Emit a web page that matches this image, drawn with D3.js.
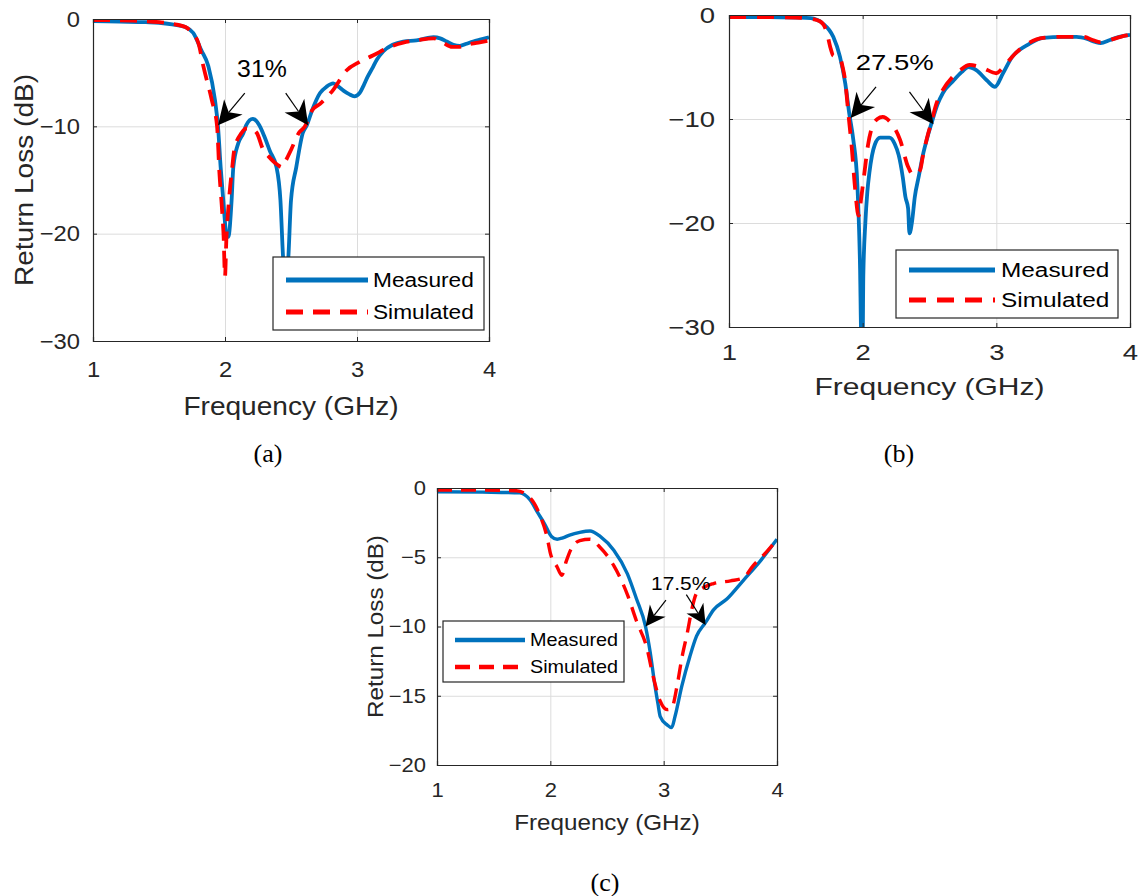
<!DOCTYPE html>
<html>
<head>
<meta charset="utf-8">
<script src="https://cdn.jsdelivr.net/npm/d3@7"></script>
<style>
  body { margin: 0; background: #fff; }
  text { font-family: "Liberation Sans", Arial, sans-serif; fill: #262626; }
</style>
</head>
<body>
<div id="chart"></div>
<script>
// ---- data (frequency GHz, return loss dB) ----
var xTicks = [1, 2, 3, 4];
var yTicksAB = [0, -10, -20, -30];
var yTicksC = [0, -5, -10, -15, -20];
var seriesNames = ["Measured", "Simulated"];
var captions = ["(a)", "(b)", "(c)"];

var measuredA = [[1.0,-0.2],[1.2,-0.25],[1.4,-0.3],[1.5,-0.35],[1.6,-0.5],[1.7,-0.75],[1.76,-1.3],[1.82,-2.9],[1.874,-4.4],[1.924,-7.55],[1.947,-10],[1.967,-13.8],[1.987,-16.9],[2.01,-20],[2.025,-20.3],[2.05,-16.9],[2.063,-13.8],[2.10,-11.6],[2.14,-10.6],[2.16,-9.9],[2.21,-9.3],[2.26,-9.9],[2.30,-11.0],[2.34,-12.3],[2.39,-13.8],[2.42,-16.9],[2.44,-22.2],[2.46,-25],[2.48,-22.2],[2.50,-16.9],[2.54,-13.8],[2.59,-10.6],[2.62,-9.9],[2.66,-8.5],[2.72,-6.9],[2.77,-6.3],[2.82,-6.0],[2.86,-6.3],[2.90,-6.7],[2.94,-7.0],[2.98,-7.2],[3.02,-6.9],[3.05,-6.2],[3.08,-5.4],[3.12,-4.5],[3.15,-3.8],[3.20,-3.0],[3.27,-2.4],[3.35,-2.1],[3.45,-2.0],[3.58,-1.7],[3.63,-1.8],[3.68,-2.1],[3.73,-2.4],[3.78,-2.5],[3.83,-2.3],[3.88,-2.1],[3.94,-1.9],[4.0,-1.7]];
var simulatedA = [[1.0,-0.1],[1.3,-0.15],[1.5,-0.3],[1.6,-0.45],[1.7,-0.75],[1.75,-1.3],[1.80,-2.3],[1.836,-4.4],[1.90,-7.55],[1.94,-10],[1.957,-14.2],[1.975,-17.3],[1.99,-20.4],[2.0,-24],[2.01,-20.6],[2.03,-16.9],[2.055,-13.8],[2.07,-12.2],[2.126,-10.6],[2.16,-10.2],[2.19,-10.2],[2.24,-10.6],[2.29,-12.2],[2.33,-12.8],[2.40,-13.6],[2.43,-13.8],[2.46,-13.2],[2.50,-12.2],[2.56,-10.6],[2.606,-10],[2.66,-8.5],[2.72,-7.9],[2.82,-6.6],[2.92,-4.8],[3.02,-4.0],[3.12,-3.4],[3.25,-2.6],[3.35,-2.2],[3.45,-2.0],[3.58,-1.8],[3.65,-2.2],[3.72,-2.6],[3.77,-2.6],[3.83,-2.4],[3.92,-2.2],[4.0,-2.0]];

var measuredB = [[1.0,-0.2],[1.3,-0.2],[1.5,-0.25],[1.61,-0.3],[1.70,-0.8],[1.78,-2.1],[1.83,-4.0],[1.87,-6.6],[1.90,-9.5],[1.93,-12],[1.96,-16.2],[1.98,-24],[1.99,-31],[2.0,-31],[2.005,-25],[2.02,-20],[2.035,-17],[2.05,-15.2],[2.07,-13.5],[2.09,-12.5],[2.13,-11.8],[2.20,-11.8],[2.24,-12.4],[2.27,-13.5],[2.30,-15.6],[2.32,-17.5],[2.34,-18.6],[2.35,-21],[2.37,-19.8],[2.39,-17.5],[2.42,-15.5],[2.45,-13.5],[2.49,-11.5],[2.52,-10.2],[2.56,-8.6],[2.60,-7.5],[2.68,-6.3],[2.74,-5.5],[2.79,-5.0],[2.85,-5.3],[2.93,-6.3],[2.99,-6.9],[3.05,-5.6],[3.12,-4.0],[3.18,-3.3],[3.23,-2.9],[3.35,-2.2],[3.50,-2.1],[3.60,-2.1],[3.68,-2.3],[3.74,-2.6],[3.78,-2.7],[3.85,-2.4],[3.92,-2.1],[4.0,-1.9]];
var simulatedB = [[1.0,-0.2],[1.3,-0.2],[1.5,-0.25],[1.60,-0.35],[1.68,-0.6],[1.73,-1.6],[1.76,-3.2],[1.78,-3.9],[1.83,-4.1],[1.85,-5.0],[1.87,-6.4],[1.89,-9.1],[1.92,-13],[1.94,-16.2],[1.97,-19.3],[1.99,-17.5],[2.01,-15.5],[2.04,-12.5],[2.07,-10.8],[2.11,-10.0],[2.15,-9.8],[2.20,-10.2],[2.28,-12],[2.34,-14.6],[2.38,-15.4],[2.43,-14.9],[2.45,-13.6],[2.49,-11.4],[2.51,-10.5],[2.55,-8.6],[2.60,-7.2],[2.67,-6.0],[2.73,-5.3],[2.80,-4.8],[2.90,-5.1],[3.0,-5.6],[3.04,-5.2],[3.08,-4.6],[3.15,-3.6],[3.23,-2.8],[3.35,-2.2],[3.50,-2.1],[3.65,-2.1],[3.72,-2.4],[3.77,-2.6],[3.85,-2.4],[3.93,-2.1],[4.0,-1.9]];

var measuredC = [[1.0,-0.27],[1.4,-0.3],[1.73,-0.35],[1.82,-0.85],[1.89,-1.8],[1.95,-2.6],[2.01,-3.5],[2.06,-3.7],[2.11,-3.6],[2.17,-3.4],[2.26,-3.2],[2.35,-3.1],[2.44,-3.5],[2.56,-4.5],[2.68,-6.2],[2.76,-8.0],[2.84,-10.0],[2.88,-11.8],[2.92,-14.1],[2.95,-15.6],[2.97,-16.5],[3.03,-17.1],[3.07,-17.3],[3.10,-16.5],[3.16,-14.3],[3.23,-12.2],[3.29,-10.7],[3.37,-9.7],[3.44,-8.8],[3.56,-8.0],[3.70,-6.7],[3.85,-5.3],[4.0,-3.7]];
var simulatedC = [[1.0,-0.15],[1.4,-0.15],[1.70,-0.2],[1.82,-0.7],[1.91,-2.0],[1.97,-3.5],[2.0,-4.7],[2.06,-5.7],[2.10,-6.3],[2.14,-5.3],[2.19,-4.3],[2.26,-3.8],[2.35,-3.7],[2.44,-4.3],[2.56,-5.6],[2.68,-7.7],[2.76,-9.6],[2.85,-11.5],[2.91,-13.7],[2.97,-15.4],[3.03,-16.0],[3.07,-15.9],[3.12,-14.2],[3.16,-12.3],[3.21,-10.4],[3.25,-8.7],[3.29,-7.6],[3.35,-7.2],[3.44,-6.9],[3.59,-6.7],[3.70,-6.5],[3.79,-5.6],[3.91,-4.6],[4.0,-3.7]];

// -10 dB bandwidth annotations, in data units
var arrowsA = [{x1:2.15,y1:-6.9,x2:1.947,y2:-9.9},{x1:2.46,y1:-6.9,x2:2.63,y2:-9.9}];
var arrowsB = [{x1:2.10,y1:-6.9,x2:1.91,y2:-9.9},{x1:2.35,y1:-7.4,x2:2.53,y2:-10.5}];
var arrowsC = [{x1:3.02,y1:-8.1,x2:2.84,y2:-10.0},{x1:3.20,y1:-7.7,x2:3.37,y2:-9.9}];
var bandA = {text:"31%", x:2.28, y:-4.66};
var bandB = {text:"27.5%", x:2.24, y:-4.5};
var bandC = {text:"17.5%", x:3.15, y:-6.86};

var blue = "#0072BD", red = "#FF0000";

var svg = d3.select("#chart").append("svg")
  .attr("width", 1140)
  .attr("height", 896);

// text that is a bit wider than Liberation Sans, like the MATLAB export
function stext(g, x, y, str, size, sx, anchor, rot) {
  return g.append("text")
    .attr("transform", "translate(" + x + "," + y + ")" + (rot ? " rotate(" + rot + ")" : "") + " scale(" + sx + ",1)")
    .attr("text-anchor", anchor || "middle")
    .style("font-size", size + "px")
    .text(str);
}

var panels = [
  {key:"a", left:93, top:19, width:396, height:322, yMin:-30, yTicks:yTicksAB,
   meas:measuredA, sim:simulatedA, arrows:arrowsA, band:bandA, caption:captions[0],
   sx:1.08, tickFont:22, labelFont:26, legendFont:21, bandFont:23,
   xTickBase:36, yTickGap:13, xLabelBase:74, yLabelX:33, yLabel:true,
   legend:{x:273, y:257, w:211, h:73, s0:13, s1:95, tx:100, r0:23, r1:55},
   capX:268, capY:462, dash:"17,10", lw:3.8, head:[24,12]},
  {key:"b", left:729, top:15, width:401, height:312, yMin:-30, yTicks:yTicksAB,
   meas:measuredB, sim:simulatedB, arrows:arrowsB, band:bandB, caption:captions[1],
   sx:1.25, tickFont:22, labelFont:24, legendFont:19.5, bandFont:22,
   xTickBase:33, yTickGap:14, xLabelBase:68, yLabelX:0, yLabel:false,
   legend:{x:896, y:250, w:222, h:68, s0:13, s1:99, tx:105, r0:20, r1:50},
   capX:899, capY:462, dash:"17,11", lw:3.8, head:[24,12]},
  {key:"c", left:437, top:488, width:340, height:277, yMin:-20, yTicks:yTicksC,
   meas:measuredC, sim:simulatedC, arrows:arrowsC, band:bandC, caption:captions[2],
   sx:1.1, tickFont:20, labelFont:22, legendFont:18, bandFont:19,
   xTickBase:32, yTickGap:11, xLabelBase:65, yLabelX:383, yLabel:true,
   legend:{x:443, y:621, w:181, h:61, s0:12, s1:82, tx:87, r0:19, r1:46},
   capX:605, capY:891, dash:"15,9", lw:3.4, head:[20,10]}
];

panels.forEach(drawPanel);

function drawPanel(p) {
  var x = d3.scaleLinear().domain([1, 4]).range([0, p.width]);
  var y = d3.scaleLinear().domain([p.yMin, 0]).range([p.height, 0]);

  var g = svg.append("g").attr("transform", "translate(" + p.left + "," + p.top + ")");

  g.append("clipPath").attr("id", "clip-" + p.key)
    .append("rect").attr("width", p.width).attr("height", p.height);

  // grid
  g.append("g").attr("class", "grid")
    .call(d3.axisBottom(x).tickValues(xTicks).tickSize(p.height).tickFormat(""))
    .call(s => s.select(".domain").remove())
    .selectAll("line").attr("stroke", "#dcdcdc");
  g.append("g").attr("class", "grid")
    .call(d3.axisLeft(y).tickValues(p.yTicks).tickSize(-p.width).tickFormat(""))
    .call(s => s.select(".domain").remove())
    .selectAll("line").attr("stroke", "#dcdcdc");

  // curves
  var line = d3.line()
    .x(d => x(d[0]))
    .y(d => y(d[1]))
    .curve(d3.curveMonotoneX);

  var curves = g.append("g").attr("clip-path", "url(#clip-" + p.key + ")");
  curves.append("path").datum(p.meas)
    .attr("d", line).attr("fill", "none")
    .attr("stroke", blue).attr("stroke-width", p.lw)
    .attr("stroke-linejoin", "round");
  curves.append("path").datum(p.sim)
    .attr("d", line).attr("fill", "none")
    .attr("stroke", red).attr("stroke-width", p.lw)
    .attr("stroke-dasharray", p.dash);

  // axes, box with inward ticks
  var xAxis = g.append("g").attr("transform", "translate(0," + p.height + ")")
    .call(d3.axisBottom(x).tickValues(xTicks).tickSize(-4).tickPadding(p.xTickBase - p.tickFont * 0.71).tickFormat(d3.format("d")));
  var yAxis = g.append("g")
    .call(d3.axisLeft(y).tickValues(p.yTicks).tickSize(-4).tickPadding(p.yTickGap / p.sx).tickFormat(d3.format("d")));
  g.append("g").call(d3.axisTop(x).tickValues(xTicks).tickSize(-4).tickFormat(""));
  g.append("g").attr("transform", "translate(" + p.width + ",0)")
    .call(d3.axisRight(y).tickValues(p.yTicks).tickSize(-4).tickFormat(""));

  g.selectAll(".domain").attr("stroke", "#262626").attr("stroke-width", 1.2);
  g.selectAll(".tick line").filter(function () { return !this.closest(".grid"); })
    .attr("stroke", "#262626");
  [xAxis, yAxis].forEach(function (ax) {
    ax.selectAll("text")
      .attr("fill", "#262626")
      .style("font-size", p.tickFont + "px")
      .style("font-family", "'Liberation Sans', Arial, sans-serif")
      .attr("transform", "scale(" + p.sx + ",1)");
  });

  // axis labels
  stext(g, p.width / 2, p.height + p.xLabelBase, "Frequency (GHz)", p.labelFont, p.sx, "middle");
  if (p.yLabel) {
    stext(svg, p.yLabelX, p.top + p.height / 2, "Return Loss (dB)", p.labelFont, p.sx, "middle", -90);
  }

  // bandwidth arrows
  var L = p.head[0], W = p.head[1];
  p.arrows.forEach(function (a) {
    var sx0 = x(a.x1), sy0 = y(a.y1), tx = x(a.x2), ty = y(a.y2);
    var dx = tx - sx0, dy = ty - sy0, len = Math.sqrt(dx * dx + dy * dy);
    var ux = dx / len, uy = dy / len, nx = -uy, ny = ux;
    var bx = tx - ux * L, by = ty - uy * L;
    var kx = tx - ux * L * 0.7, ky = ty - uy * L * 0.7;
    g.append("line")
      .attr("x1", sx0).attr("y1", sy0).attr("x2", kx).attr("y2", ky)
      .attr("stroke", "#000").attr("stroke-width", 1.2);
    g.append("path")
      .attr("d", "M" + tx + "," + ty + "L" + (bx + nx * W) + "," + (by + ny * W) +
        "L" + kx + "," + ky + "L" + (bx - nx * W) + "," + (by - ny * W) + "Z")
      .attr("fill", "#000");
  });
  stext(g, x(p.band.x), y(p.band.y), p.band.text, p.bandFont, p.sx, "middle").attr("dy", "0.35em").style("fill", "#000");

  // legend
  var lg = p.legend;
  var leg = svg.append("g").attr("transform", "translate(" + lg.x + "," + lg.y + ")");
  leg.append("rect").attr("width", lg.w).attr("height", lg.h)
    .attr("fill", "#fff").attr("stroke", "#262626").attr("stroke-width", 1.2);
  [[blue, null, lg.r0], [red, p.dash, lg.r1]].forEach(function (row, i) {
    leg.append("line")
      .attr("x1", lg.s0).attr("x2", lg.s1).attr("y1", row[2]).attr("y2", row[2])
      .attr("stroke", row[0]).attr("stroke-width", p.lw + 1)
      .attr("stroke-dasharray", row[1]);
    stext(leg, lg.tx, row[2], seriesNames[i], p.legendFont, p.sx, "start").attr("dy", "0.35em").style("fill", "#000");
  });

  // caption
  svg.append("text")
    .attr("x", p.capX).attr("y", p.capY)
    .attr("text-anchor", "middle")
    .style("font-family", "'Liberation Serif', 'Times New Roman', serif")
    .style("font-size", "26px")
    .style("fill", "#000")
    .text(p.caption);
}
</script>
</body>
</html>
